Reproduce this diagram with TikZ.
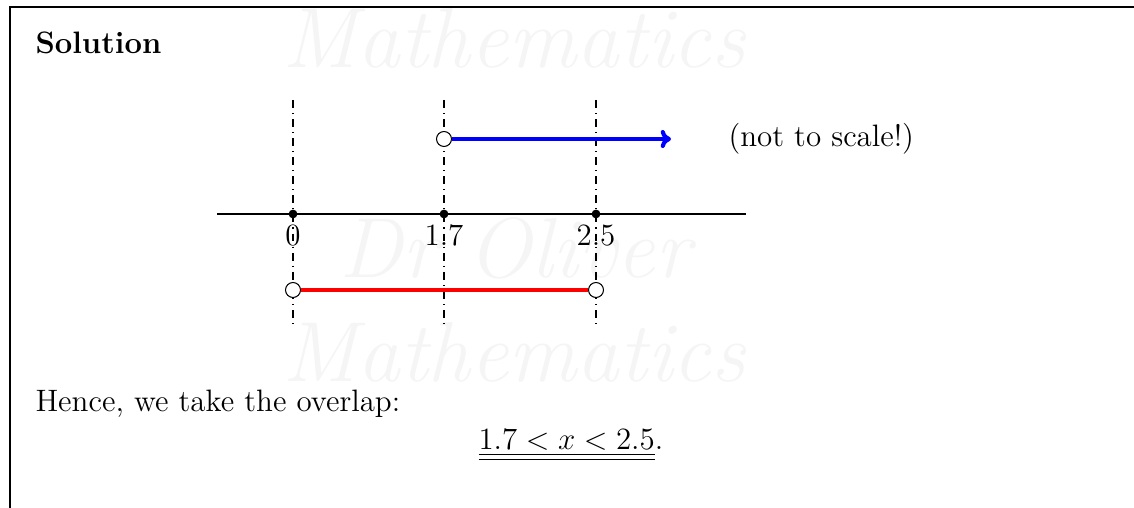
\documentclass[tikz,border=0pt]{standalone}
\usetikzlibrary{arrows.meta}
\tikzset{
  txt/.style={inner sep=0pt, font=\fontsize{12}{14.4}\selectfont},
  wm/.style={inner sep=0pt, text=black!4, font=\fontsize{33}{38}\selectfont\itshape},
  axisline/.style={line width=0.4pt},
  guide/.style={dashdotted, line width=0.4pt},
  dotpt/.style={circle, fill=black, inner sep=0pt, minimum size=3.4pt},
  openpt/.style={circle, draw=black, fill=white, line width=0.4pt, inner sep=0pt, minimum size=5.8pt},
  seg/.style={line width=1.6pt},
  frame/.style={line width=0.7pt}
}
\begin{document}
\begin{tikzpicture}[x=0.3875pt, y=-0.3875pt]
\useasboundingbox (0,0) rectangle (1134,508);
% watermark
\node[wm, anchor=center] (wm1) at (514,38) {Mathematics};
\node[wm, anchor=center] (wm2) at (515,248) {Dr Oliver};
\node[wm, anchor=center] (wm3) at (514,352) {Mathematics};
% frame
\coordinate (fl) at (10,508);
\coordinate (fc) at (10,7);
\coordinate (fr) at (1134,7);
\draw[frame] (fl) -- (fc) -- (fr);
% title
\node[txt, anchor=base west, font=\fontsize{12}{14.4}\selectfont\bfseries] (title) at (35,54) {Solution};
% guide lines
\coordinate (t0) at (293,100); \coordinate (b0) at (293,325);
\coordinate (t1) at (444,100); \coordinate (b1) at (444,325);
\coordinate (t2) at (596,100); \coordinate (b2) at (596,325);
% axis
\coordinate (al) at (217,214);
\coordinate (ar) at (746,214);
\draw[axisline] (al) -- (ar);
% labels
\node[txt, anchor=base] (l0) at (293,246) {$0$};
\node[txt, anchor=base] (l1) at (444,246) {$1.7$};
\node[txt, anchor=base] (l2) at (596,246) {$2.5$};
\draw[guide] (t0) -- (b0);
\draw[guide] (t1) -- (b1);
\draw[guide] (t2) -- (b2);
% dots on axis
\node[dotpt] (d0) at (293,214) {};
\node[dotpt] (d1) at (444,214) {};
\node[dotpt] (d2) at (596,214) {};
% blue ray
\node[openpt] (bo) at (444,139) {};
\coordinate (bend) at (671,139);
\draw[seg, blue, -{To[length=4pt,width=7pt]}] (bo) -- (bend);
% red segment
\node[openpt] (ra) at (293,290) {};
\node[openpt] (rb) at (596,290) {};
\draw[seg, red] (ra) -- (rb);
% note
\node[txt, anchor=base west] (note) at (728,147) {(not to scale!)};
% conclusion
\node[txt, anchor=base west] (hence) at (35,412) {Hence, we take the overlap:};
\node[txt, anchor=base west] (ans) at (478,450) {$\underline{\underline{1.7<x<2.5}}$.};
\end{tikzpicture}
\end{document}
